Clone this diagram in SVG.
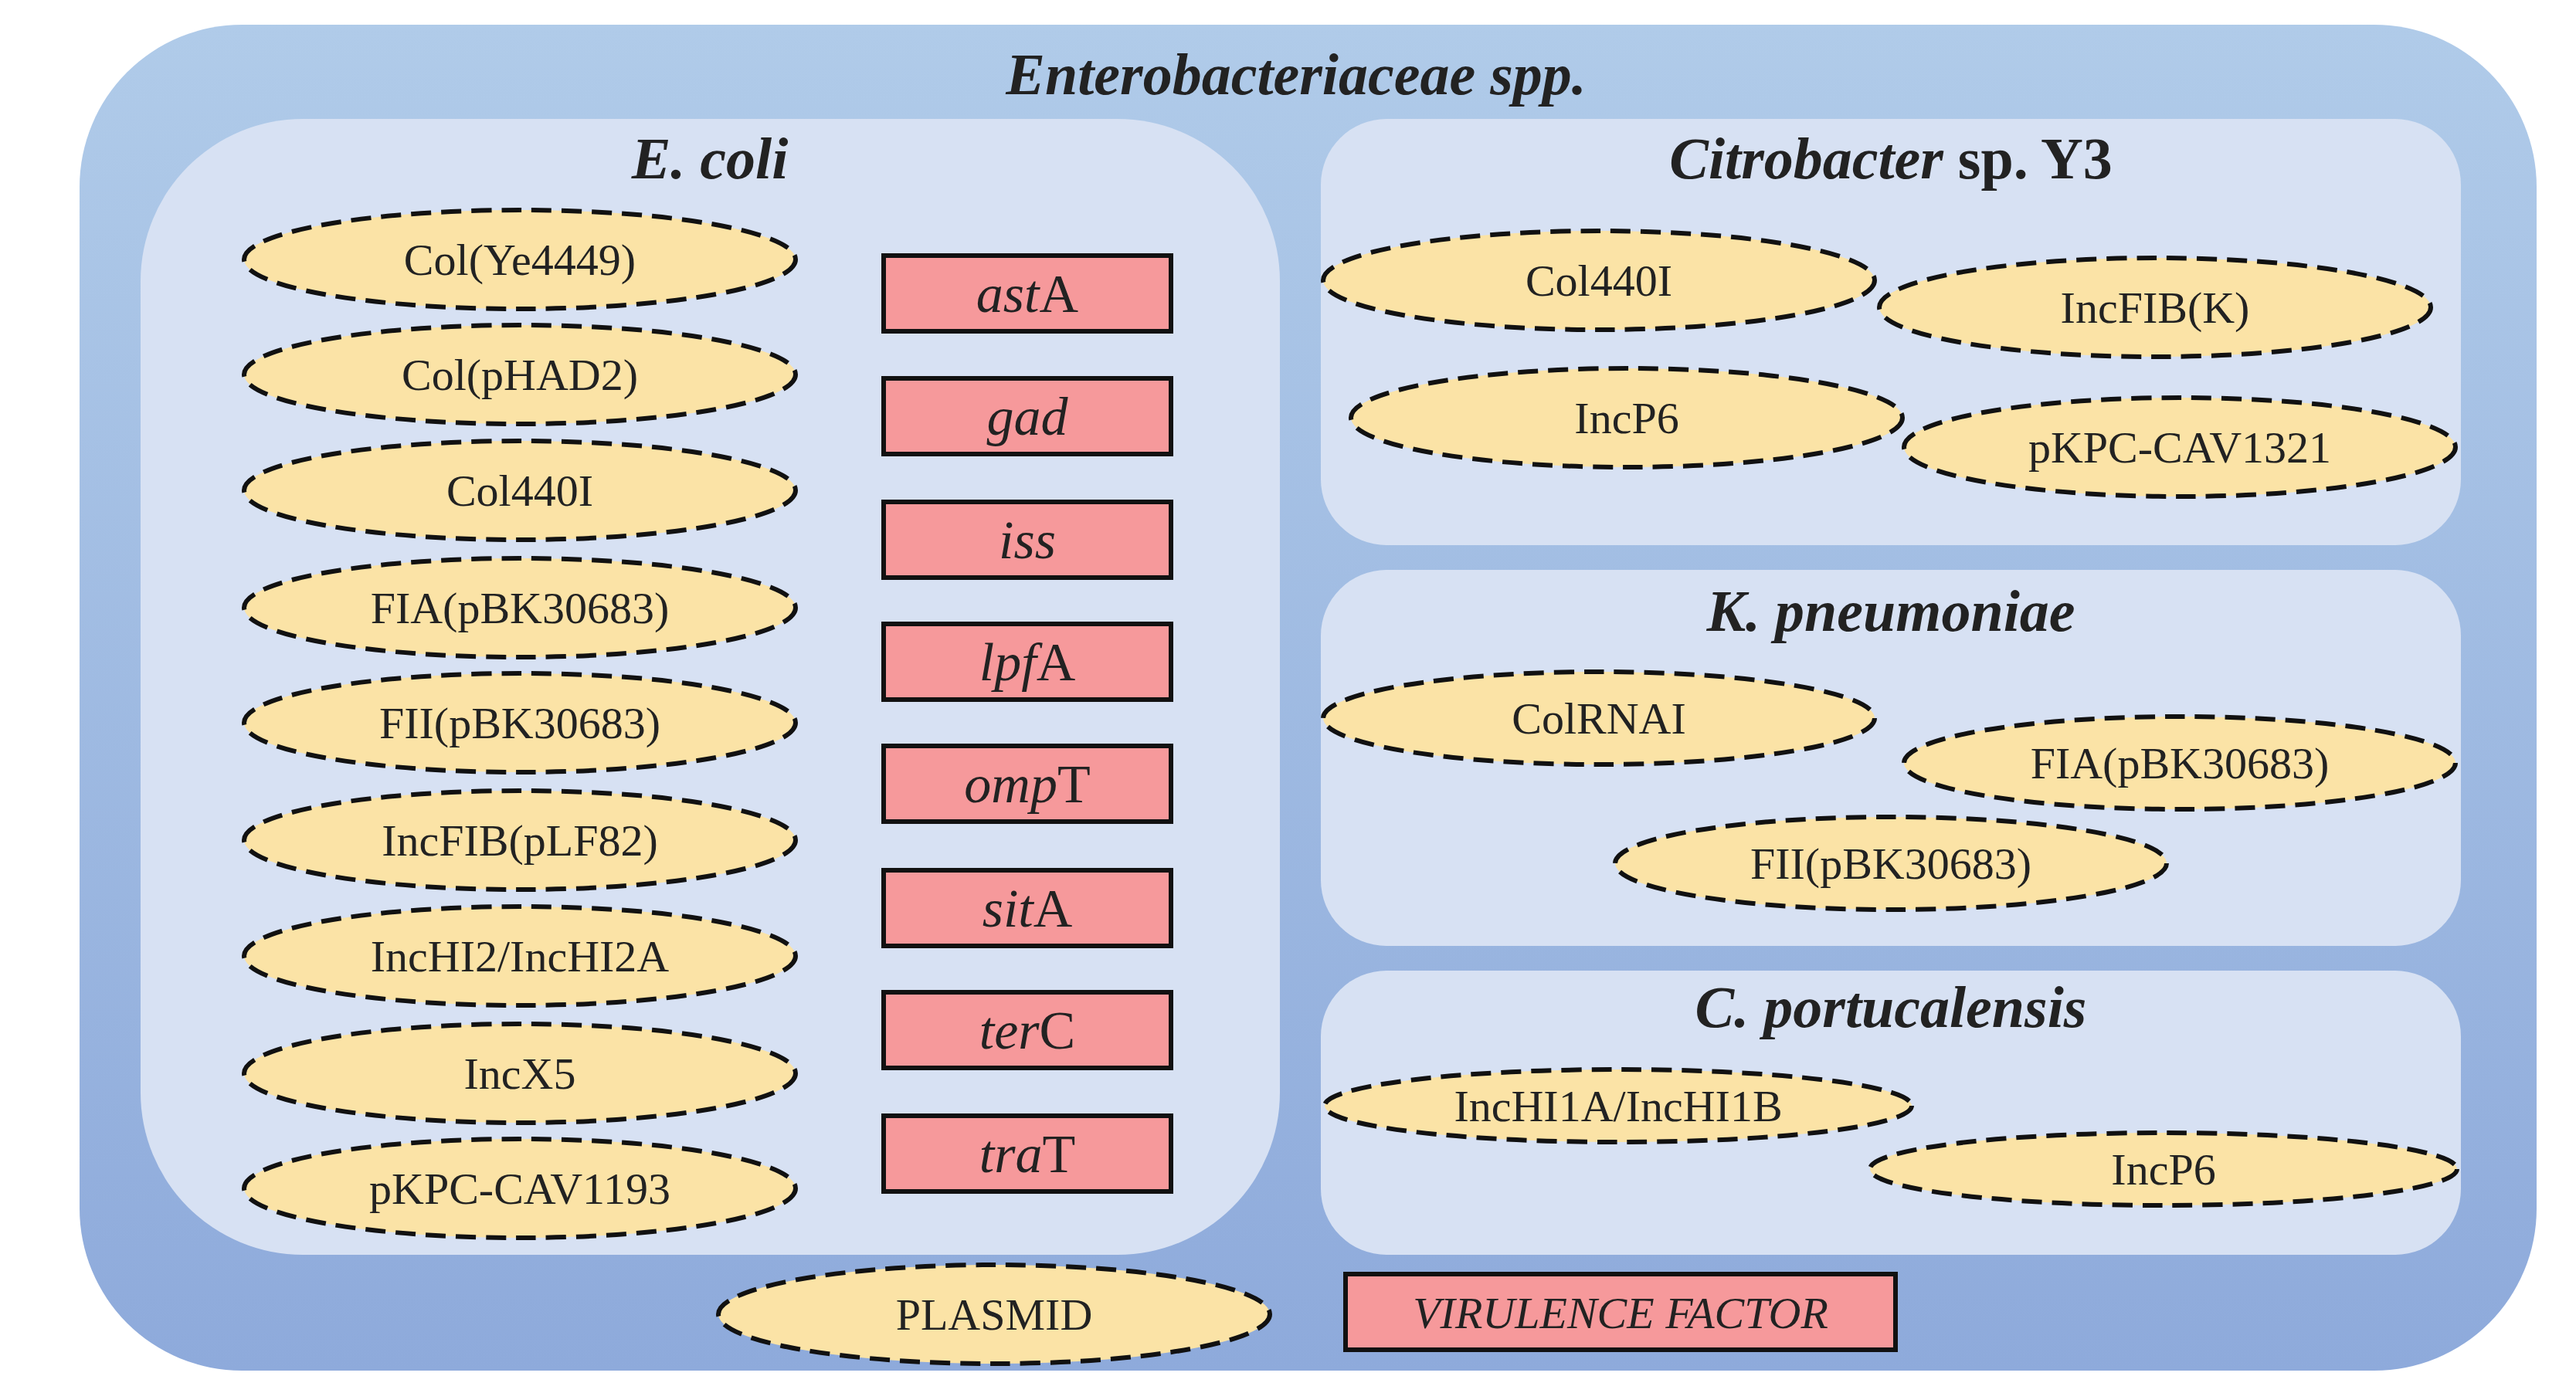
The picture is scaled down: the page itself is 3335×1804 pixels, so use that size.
<svg xmlns="http://www.w3.org/2000/svg" width="3335" height="1804" viewBox="0 0 3335 1804">
<defs>
<linearGradient id="bg" x1="0" y1="0" x2="0" y2="1"><stop offset="0" stop-color="#b0cbe9"/><stop offset="1" stop-color="#8eaadb"/></linearGradient>
<style>
.panel{fill:#d7e1f3}
.pl{fill:#fbe3a6;stroke:#111;stroke-width:6;stroke-dasharray:26 13}
.vf{fill:#f6999b;stroke:#111;stroke-width:6}
text{font-family:"Liberation Serif","DejaVu Serif",serif;fill:#222;text-anchor:middle}
.t{font-size:58px}
.g{font-size:70px}
.h{font-size:76px;font-style:italic;font-weight:bold}
</style>
</defs>
<rect width="3335" height="1804" fill="#fff"/>
<g id="outer"><rect x="103" y="32" width="3181" height="1743" rx="210" fill="url(#bg)"/>
<text x="1678" y="122" class="h">Enterobacteriaceae spp.</text></g>
<g id="ecoli"><rect x="182" y="154" width="1475" height="1471" rx="210" class="panel"/>
<text x="919" y="231" class="h">E. coli</text></g>
<g id="citro"><rect x="1710" y="154" width="1476" height="552" rx="85" class="panel"/>
<text x="2448" y="231" class="h">Citrobacter<tspan font-style="normal"> sp. Y3</tspan></text></g>
<g id="kpn"><rect x="1710" y="738" width="1476" height="487" rx="85" class="panel"/>
<text x="2448" y="817" class="h">K. pneumoniae</text></g>
<g id="cport"><rect x="1710" y="1257" width="1476" height="368" rx="85" class="panel"/>
<text x="2448" y="1330" class="h">C. portucalensis</text></g>
<g id="ecoli-plasmids">
<g id="p1"><ellipse cx="673" cy="336" rx="357" ry="64" class="pl"/><text x="673" y="356" class="t">Col(Ye4449)</text></g>
<g id="p2"><ellipse cx="673" cy="485" rx="357" ry="64" class="pl"/><text x="673" y="505" class="t">Col(pHAD2)</text></g>
<g id="p3"><ellipse cx="673" cy="635" rx="357" ry="64" class="pl"/><text x="673" y="655" class="t">Col440I</text></g>
<g id="p4"><ellipse cx="673" cy="787" rx="357" ry="64" class="pl"/><text x="673" y="807" class="t">FIA(pBK30683)</text></g>
<g id="p5"><ellipse cx="673" cy="936" rx="357" ry="64" class="pl"/><text x="673" y="956" class="t">FII(pBK30683)</text></g>
<g id="p6"><ellipse cx="673" cy="1088" rx="357" ry="64" class="pl"/><text x="673" y="1108" class="t">IncFIB(pLF82)</text></g>
<g id="p7"><ellipse cx="673" cy="1238" rx="357" ry="64" class="pl"/><text x="673" y="1258" class="t">IncHI2/IncHI2A</text></g>
<g id="p8"><ellipse cx="673" cy="1390" rx="357" ry="64" class="pl"/><text x="673" y="1410" class="t">IncX5</text></g>
<g id="p9"><ellipse cx="673" cy="1539" rx="357" ry="64" class="pl"/><text x="673" y="1559" class="t">pKPC-CAV1193</text></g>
</g>
<g id="ecoli-vf">
<g id="v1"><rect x="1144" y="331" width="372" height="98" class="vf"/><text x="1330" y="404" class="g"><tspan font-style="italic">ast</tspan>A</text></g>
<g id="v2"><rect x="1144" y="490" width="372" height="98" class="vf"/><text x="1330" y="563" class="g" font-style="italic">gad</text></g>
<g id="v3"><rect x="1144" y="650" width="372" height="98" class="vf"/><text x="1330" y="723" class="g" font-style="italic">iss</text></g>
<g id="v4"><rect x="1144" y="808" width="372" height="98" class="vf"/><text x="1330" y="881" class="g"><tspan font-style="italic">lpf</tspan>A</text></g>
<g id="v5"><rect x="1144" y="966" width="372" height="98" class="vf"/><text x="1330" y="1039" class="g"><tspan font-style="italic">omp</tspan>T</text></g>
<g id="v6"><rect x="1144" y="1127" width="372" height="98" class="vf"/><text x="1330" y="1200" class="g"><tspan font-style="italic">sit</tspan>A</text></g>
<g id="v7"><rect x="1144" y="1285" width="372" height="98" class="vf"/><text x="1330" y="1358" class="g"><tspan font-style="italic">ter</tspan>C</text></g>
<g id="v8"><rect x="1144" y="1445" width="372" height="98" class="vf"/><text x="1330" y="1518" class="g"><tspan font-style="italic">tra</tspan>T</text></g>
</g>
<g id="citro-plasmids">
<g id="c1"><ellipse cx="2070" cy="363" rx="357" ry="64" class="pl"/><text x="2070" y="383" class="t">Col440I</text></g>
<g id="c2"><ellipse cx="2790" cy="398" rx="357" ry="64" class="pl"/><text x="2790" y="418" class="t">IncFIB(K)</text></g>
<g id="c3"><ellipse cx="2106" cy="541" rx="357" ry="64" class="pl"/><text x="2106" y="561" class="t">IncP6</text></g>
<g id="c4"><ellipse cx="2822" cy="579" rx="357" ry="64" class="pl"/><text x="2822" y="599" class="t">pKPC-CAV1321</text></g>
</g>
<g id="kpn-plasmids">
<g id="k1"><ellipse cx="2070" cy="930" rx="357" ry="60" class="pl"/><text x="2070" y="950" class="t">ColRNAI</text></g>
<g id="k2"><ellipse cx="2822" cy="988" rx="357" ry="60" class="pl"/><text x="2822" y="1008" class="t">FIA(pBK30683)</text></g>
<g id="k3"><ellipse cx="2448" cy="1118" rx="357" ry="60" class="pl"/><text x="2448" y="1138" class="t">FII(pBK30683)</text></g>
</g>
<g id="cport-plasmids">
<g id="cp1"><ellipse cx="2095" cy="1432" rx="380" ry="47" class="pl"/><text x="2095" y="1452" class="t">IncHI1A/IncHI1B</text></g>
<g id="cp2"><ellipse cx="2801" cy="1514" rx="380" ry="47" class="pl"/><text x="2801" y="1534" class="t">IncP6</text></g>
</g>
<g id="legend">
<g id="lp"><ellipse cx="1287" cy="1702" rx="357" ry="64" class="pl"/><text x="1287" y="1722" class="t">PLASMID</text></g>
<g id="lv"><rect x="1742" y="1650" width="712" height="98" class="vf"/><text x="2098" y="1720" class="t" font-style="italic">VIRULENCE FACTOR</text></g>
</g>
<g id="connectors"/>
</svg>
